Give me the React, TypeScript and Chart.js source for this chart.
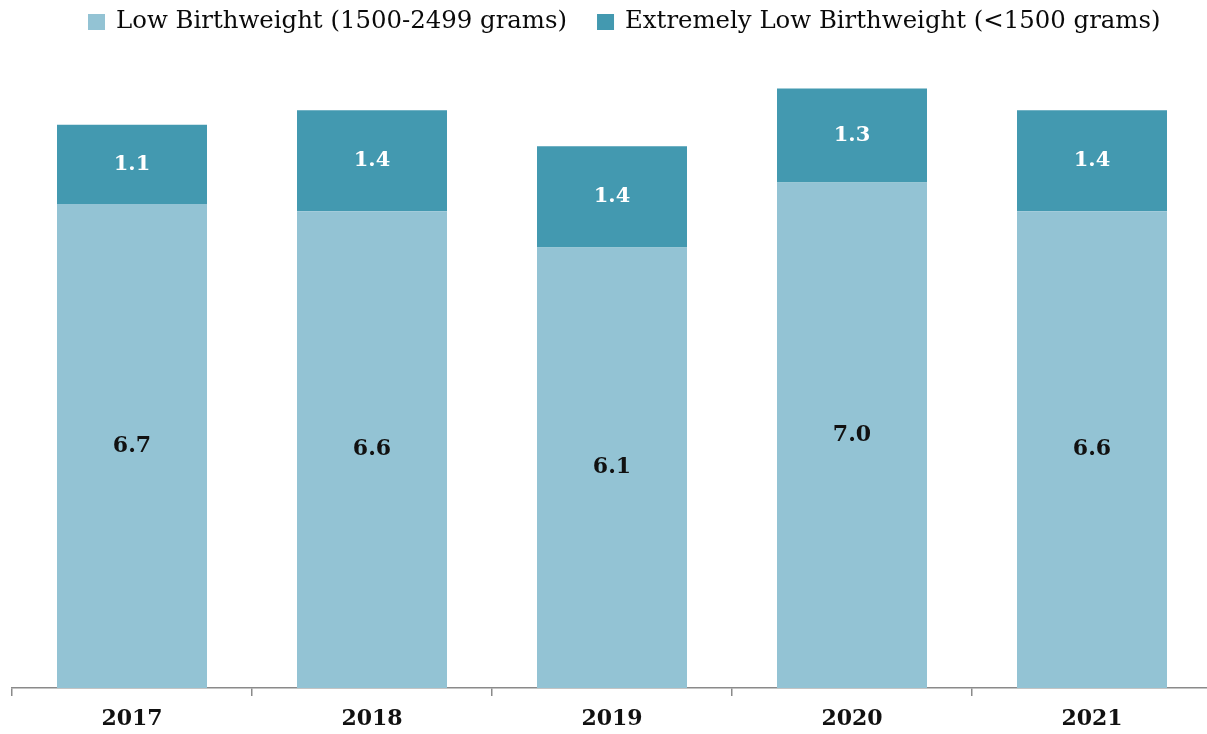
import React, { useEffect, useRef } from "react";
import { Chart, registerables } from "chart.js";

Chart.register(...registerables);

const years = ["2017", "2018", "2019", "2020", "2021"];
const lowBirthweight = [6.7, 6.6, 6.1, 7.0, 6.6];
const extremelyLow = [1.1, 1.4, 1.4, 1.3, 1.4];
const seriesLabels = ["Low Birthweight (1500-2499 grams)", "Extremely Low Birthweight (<1500 grams)"];
const seriesColors = ["#93C3D4", "#4399B0"];
const FONT = "'DejaVu Serif', serif";

const valueLabels = {
  id: "valueLabels",
  afterDatasetsDraw(chart: any) {
    const ctx = chart.ctx;
    ctx.save();
    ctx.textAlign = "center";
    ctx.textBaseline = "middle";
    chart.data.datasets.forEach((ds: any, di: number) => {
      const meta = chart.getDatasetMeta(di);
      meta.data.forEach((el: any, i: number) => {
        const v = ds.data[i];
        ctx.fillStyle = di === 0 ? "#111111" : "#ffffff";
        ctx.font = `bold ${di === 0 ? 22 : 21}px ${FONT}`;
        ctx.fillText(v.toFixed(1), el.x, (el.y + el.base) / 2);
      });
    });
    ctx.restore();
  },
};

const topLegend = {
  id: "topLegend",
  afterDraw(chart: any) {
    const ctx = chart.ctx;
    ctx.save();
    ctx.font = `24.4px ${FONT}`;
    ctx.textBaseline = "middle";
    ctx.textAlign = "left";
    let x = chart.chartArea.left + 76;
    const yMid = 22;
    chart.data.datasets.forEach((ds: any, i: number) => {
      ctx.fillStyle = ds.backgroundColor;
      ctx.fillRect(x, yMid - 8, 17, 16);
      x += 17 + 11;
      ctx.fillStyle = "#0a0a0a";
      ctx.fillText(ds.label, x, yMid);
      x += ctx.measureText(ds.label).width + 30;
    });
    ctx.restore();
  },
};

export default function App() {
  const ref = useRef<HTMLCanvasElement>(null);
  useEffect(() => {
    document.body.style.margin = "0";
    document.body.style.overflow = "hidden";
    const chart = new Chart(ref.current!, {
      type: "bar",
      data: {
        labels: years,
        datasets: [
          { label: seriesLabels[0], data: lowBirthweight, backgroundColor: seriesColors[0], barPercentage: 0.625, categoryPercentage: 1 },
          { label: seriesLabels[1], data: extremelyLow, backgroundColor: seriesColors[1], barPercentage: 0.625, categoryPercentage: 1 },
        ],
      },
      options: {
        animation: false,
        responsive: false,
        layout: { padding: { left: 12, right: 0, top: 38, bottom: 0 } },
        plugins: {
          legend: { display: false },
          tooltip: { enabled: false },
        },
        scales: {
          x: {
            stacked: true,
            grid: { offset: true, drawOnChartArea: false, drawTicks: true, tickLength: 8, color: "#8a8a8a", lineWidth: 1.5 },
            border: { display: true, color: "#8a8a8a", width: 1.5 },
            ticks: { color: "#111111", font: { family: FONT, size: 22, weight: "bold" }, padding: 10 },
            afterFit: (s: any) => { s.height = 46; },
          },
          y: {
            stacked: true,
            display: false,
            min: 0,
            max: 9,
          },
        },
      },
      plugins: [valueLabels, topLegend],
    });
    return () => chart.destroy();
  }, []);
  return (
    <div style={{ width: 1207, height: 734, overflow: "hidden" }}>
      <canvas ref={ref} width={1212} height={734} style={{ display: "block" }} />
    </div>
  );
}
